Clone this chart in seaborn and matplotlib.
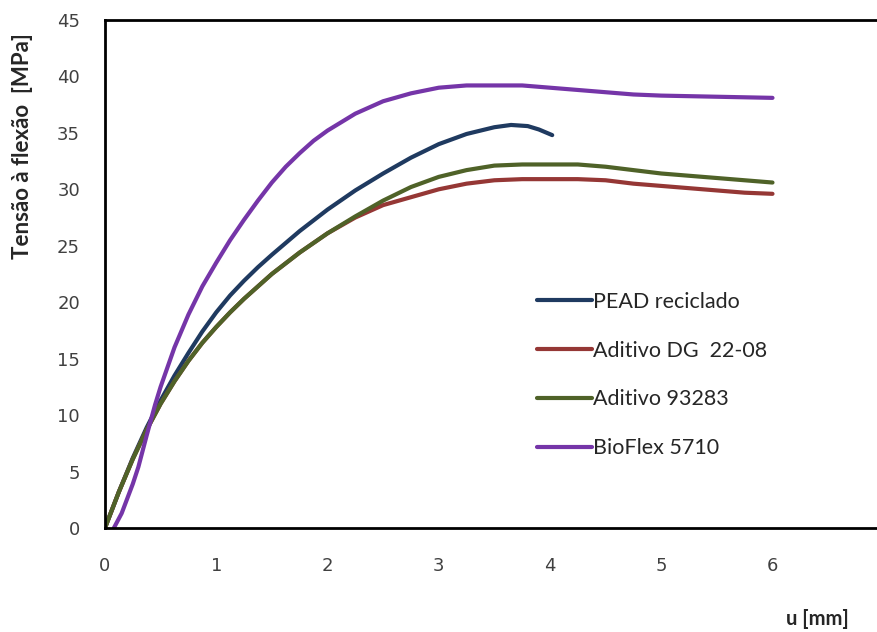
import seaborn as sns
from matplotlib import pyplot as plt
import pandas as pd

# dados (u em mm, tensao em MPa)
pead_x = [0, 0.125, 0.25, 0.375, 0.5, 0.625, 0.75, 0.875, 1.0, 1.125, 1.25, 1.375, 1.5, 1.75, 2.0,
          2.25, 2.5, 2.75, 3.0, 3.25, 3.5, 3.65, 3.8, 3.9, 4.02]
pead_y = [0, 3.2, 6.2, 8.9, 11.3, 13.5, 15.5, 17.4, 19.1, 20.6, 21.9, 23.1, 24.2, 26.3, 28.2,
          29.9, 31.4, 32.8, 34.0, 34.9, 35.5, 35.7, 35.6, 35.3, 34.8]

dg_x = [0, 0.125, 0.25, 0.375, 0.5, 0.625, 0.75, 0.875, 1.0, 1.125, 1.25, 1.375, 1.5, 1.75, 2.0,
        2.25, 2.5, 2.75, 3.0, 3.25, 3.5, 3.75, 4.0, 4.25, 4.5, 4.75, 5.0, 5.25, 5.5, 5.75, 6.0]
dg_y = [0, 3.2, 6.1, 8.7, 11.0, 13.0, 14.8, 16.4, 17.8, 19.1, 20.3, 21.4, 22.5, 24.4, 26.1,
        27.5, 28.6, 29.3, 30.0, 30.5, 30.8, 30.9, 30.9, 30.9, 30.8, 30.5, 30.3, 30.1, 29.9, 29.7, 29.6]

a93_x = [0, 0.125, 0.25, 0.375, 0.5, 0.625, 0.75, 0.875, 1.0, 1.125, 1.25, 1.375, 1.5, 1.75, 2.0,
         2.25, 2.5, 2.75, 3.0, 3.25, 3.5, 3.75, 4.0, 4.25, 4.5, 4.75, 5.0, 5.25, 5.5, 5.75, 6.0]
a93_y = [0, 3.2, 6.1, 8.7, 11.0, 13.0, 14.8, 16.4, 17.8, 19.1, 20.3, 21.4, 22.5, 24.4, 26.1,
         27.6, 29.0, 30.2, 31.1, 31.7, 32.1, 32.2, 32.2, 32.2, 32.0, 31.7, 31.4, 31.2, 31.0, 30.8, 30.6]

bio_x = [0.08, 0.15, 0.2, 0.25, 0.3, 0.375, 0.45, 0.5, 0.625, 0.75, 0.875, 1.0, 1.125, 1.25, 1.375,
         1.5, 1.625, 1.75, 1.875, 2.0, 2.25, 2.5, 2.75, 3.0, 3.25, 3.5, 3.75, 4.0, 4.25, 4.5, 4.75,
         5.0, 5.5, 6.0]
bio_y = [0, 1.3, 2.6, 3.9, 5.4, 8.2, 10.9, 12.5, 16.0, 18.9, 21.4, 23.5, 25.5, 27.3, 29.0,
         30.6, 32.0, 33.2, 34.3, 35.2, 36.7, 37.8, 38.5, 39.0, 39.2, 39.2, 39.2, 39.0, 38.8, 38.6, 38.4,
         38.3, 38.2, 38.1]

series = [
    ('PEAD reciclado', pead_x, pead_y, '#1F3A60'),
    ('Aditivo DG  22-08', dg_x, dg_y, '#953735'),
    ('Aditivo 93283', a93_x, a93_y, '#4F6228'),
    ('BioFlex 5710', bio_x, bio_y, '#7535A8'),
]

sns.set_style('white')
plt.rcParams['font.family'] = ['Lato', 'DejaVu Sans']

fig = plt.figure(figsize=(8.77, 6.32), dpi=100)
ax = fig.add_axes([0.1197, 0.1646, 0.888, 0.8038])

for nome, xs, ys, cor in series:
    df = pd.DataFrame({'u': xs, 't': ys})
    sns.lineplot(data=df, x='u', y='t', ax=ax, label=nome, color=cor, lw=3,
                 solid_joinstyle='round', solid_capstyle='round')

ax.set_xlim(0, 7)
ax.set_ylim(0, 45)
ax.set_xticks(range(0, 8))
ax.set_yticks(range(0, 50, 5))
ax.tick_params(direction='in', length=5, width=2, colors='black', labelcolor='#404040')
ax.tick_params(axis='x', pad=21)
ax.tick_params(axis='y', pad=18)
for lab in ax.get_xticklabels() + ax.get_yticklabels():
    lab.set_fontfamily(['DejaVu Sans'])
    lab.set_fontsize(13)
for s in ['left', 'bottom', 'top']:
    ax.spines[s].set_linewidth(2)
    ax.spines[s].set_color('black')
ax.spines['right'].set_visible(False)

ax.set_ylabel('Tensão à flexão  [MPa]', fontsize=16, fontweight='bold')
ax.yaxis.set_label_coords(-0.092, 0.752)
ax.set_xlabel('u [mm]', fontsize=14.5, fontweight='bold')
ax.xaxis.set_label_coords(0.915, -0.159)

ax.legend(loc='upper left', bbox_to_anchor=(0.5546, 0.465), frameon=False, fontsize=15.5,
          handlelength=2.55, handletextpad=0.05, labelspacing=1.34, borderpad=0, borderaxespad=0)

plt.savefig('out.png', dpi=100)
